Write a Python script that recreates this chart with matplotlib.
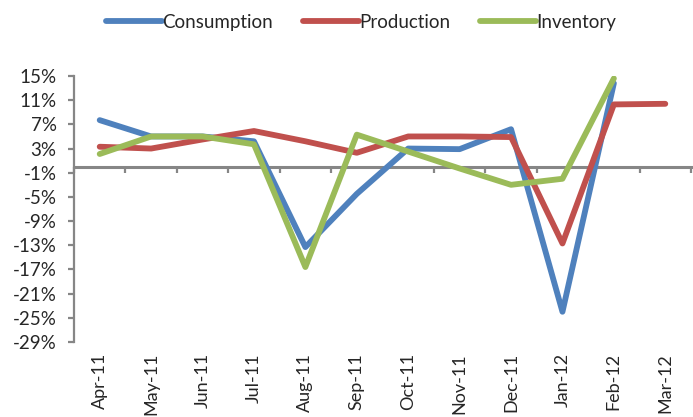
import numpy as np
import matplotlib
matplotlib.use("Agg")
import matplotlib.pyplot as plt

plt.rcParams['font.family'] = ['Lato', 'DejaVu Sans']

months = ['Apr-11', 'May-11', 'Jun-11', 'Jul-11', 'Aug-11', 'Sep-11',
          'Oct-11', 'Nov-11', 'Dec-11', 'Jan-12', 'Feb-12', 'Mar-12']

consumption = [7.7, 5.0, 5.0, 4.2, -13.3, -4.5, 3.0, 2.9, 6.2, -24.0, 13.8, np.nan]
production = [3.3, 3.0, 4.5, 5.9, 4.2, 2.3, 5.0, 5.0, 4.9, -12.7, 10.3, 10.4]
inventory = [2.1, 5.0, 5.0, 3.7, -16.6, 5.3, 2.5, -0.3, -3.0, -2.0, 14.6, np.nan]

y_ticks = list(range(-29, 16, 4))

series = [
    ('Consumption', consumption, '#4F81BD'),
    ('Production', production, '#C0504D'),
    ('Inventory', inventory, '#9BBB59'),
]

grey = '#868686'
text_color = '#262626'
fs = 13.5

W, H = 693, 417
fig = plt.figure(figsize=(W / 100, H / 100), dpi=100)
ax = fig.add_axes([74 / W, 1 - 342 / H, (691 - 74) / W, (342 - 76) / H])

x = np.arange(len(months))
for name, vals, color in series:
    ax.plot(x, vals, color=color, lw=4.2, label=name,
            solid_capstyle='round', solid_joinstyle='round')

ax.set_xlim(-0.5, len(months) - 0.5)
ax.set_ylim(min(y_ticks), max(y_ticks))

# value axis
ax.set_yticks(y_ticks, [f'{v}%' for v in y_ticks])
ax.tick_params(axis='y', direction='out', length=4.5, width=1.6, color=grey,
               labelsize=fs, labelcolor=text_color, pad=8)

# category axis crosses at zero, ticks between categories
ax.spines['bottom'].set_position(('data', 0))
ax.set_xticks(np.arange(-0.5, len(months), 1), [''] * (len(months) + 1))
ax.tick_params(axis='x', direction='out', length=4.5, width=1.6, color=grey)

for side in ('top', 'right'):
    ax.spines[side].set_visible(False)
ax.spines['left'].set_color(grey)
ax.spines['left'].set_linewidth(1.6)
ax.spines['bottom'].set_color(grey)
ax.spines['bottom'].set_linewidth(2.2)
ax.spines['bottom'].set_zorder(1)

# month labels along the bottom of the plot area
sec = ax.secondary_xaxis('bottom')
sec.set_xticks(x, months, rotation=90)
sec.tick_params(length=0, pad=8, labelsize=13, labelcolor=text_color)
sec.spines['bottom'].set_visible(False)

ax.patch.set_alpha(0)

fig.legend(loc='center', bbox_to_anchor=(0.521, 0.947), ncol=3, frameon=False,
           handlelength=3.0, handletextpad=0.0, columnspacing=1.6,
           fontsize=fs, labelcolor=text_color)

fig.savefig('out.png', dpi=100)
